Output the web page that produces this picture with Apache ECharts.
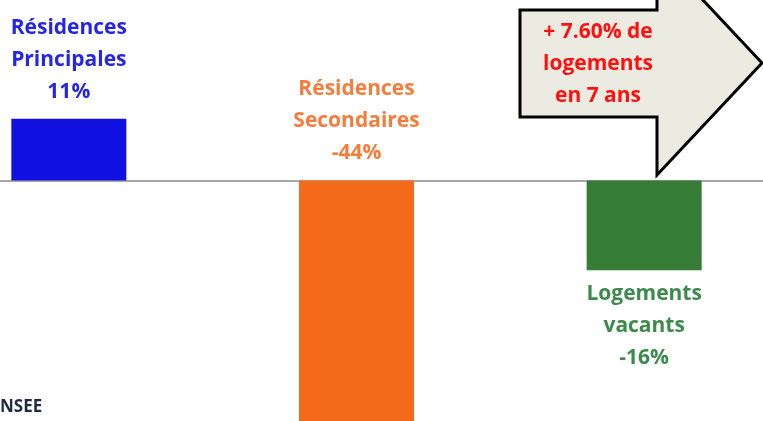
<!DOCTYPE html>
<html>
<head>
<meta charset="utf-8">
<script src="https://cdn.jsdelivr.net/npm/echarts@6/dist/echarts.min.js"></script>
<style>
html, body { margin: 0; padding: 0; background: #fff; overflow: hidden; width: 763px; height: 421px; position: relative; }
/* le graphique déborde de la fenêtre comme sur la capture */
#chart { position: absolute; left: -75px; top: -16px; width: 863px; height: 477px; }
</style>
</head>
<body>
<div id="chart"></div>
<script>
// évolution du parc de logements par type
var categories = ["Résidences\nPrincipales", "Résidences\nSecondaires", "Logements\nvacants"];
var values = [11, -44, -16];
var barColors = ["#1111e2", "#f5691b", "#367c37"];
var labelColors = ["#2525e8", "#f47d3c", "#3d8a4c"];
var labelPositions = ["top", "top", "bottom"];
var arrowText = "+ 7.60% de\nlogements\nen 7 ans";
var sourceText = "NSEE";

// décalage du conteneur par rapport à la fenêtre
var dx = 75, dy = 16;

var chart = echarts.init(document.getElementById("chart"));

var option = {
	animation: false,
	grid: {
		left: 0,
		right: 0,
		top: 0,
		bottom: 0,
	},
	xAxis: {
		type: "category",
		data: categories,
		axisLine: {
			show: true,
			onZero: true,
			lineStyle: { color: "#a8a8a8", width: 2 },
		},
		axisTick: { show: false },
		axisLabel: { show: false },
		splitLine: { show: false },
	},
	yAxis: {
		type: "value",
		min: -50,
		max: 35,
		show: false,
		splitLine: { show: false },
	},
	series: [
		{
			type: "bar",
			barWidth: 115,
			z: 2,
			data: values.map(function (v, i) {
				return {
					value: v,
					itemStyle: { color: barColors[i] },
					label: {
						show: true,
						position: labelPositions[i],
						distance: i === 2 ? 8 : 11,
						color: labelColors[i],
						fontFamily: "Open Sans",
						fontWeight: "bold",
						fontSize: 21,
						lineHeight: 32,
						align: "center",
						formatter: function () {
							return categories[i] + "\n" + v + "%";
						},
					},
				};
			}),
		},
	],
	graphic: [
		{
			type: "polygon",
			z: 1,
			shape: {
				points: [
					[520 + dx, 10 + dy], [657 + dx, 10 + dy], [657 + dx, -49 + dy], [762 + dx, 63 + dy],
					[657 + dx, 175 + dy], [657 + dx, 117 + dy], [520 + dx, 117 + dy],
				],
			},
			style: { fill: "#ecebe1", stroke: "#000", lineWidth: 3 },
		},
		{
			type: "text",
			z: 3,
			x: 598 + dx,
			y: 16 + dy,
			style: {
				text: arrowText,
				fill: "#ff1010",
				font: "bold 21px 'Open Sans'",
				lineHeight: 32,
				align: "center",
				verticalAlign: "top",
			},
		},
		{
			type: "text",
			x: 0 + dx,
			y: 399 + dy,
			style: {
				text: sourceText,
				fill: "#1f2b45",
				font: "bold 17px 'Open Sans'",
			},
		},
	],
};
chart.setOption(option, true);
</script>
</body>
</html>
